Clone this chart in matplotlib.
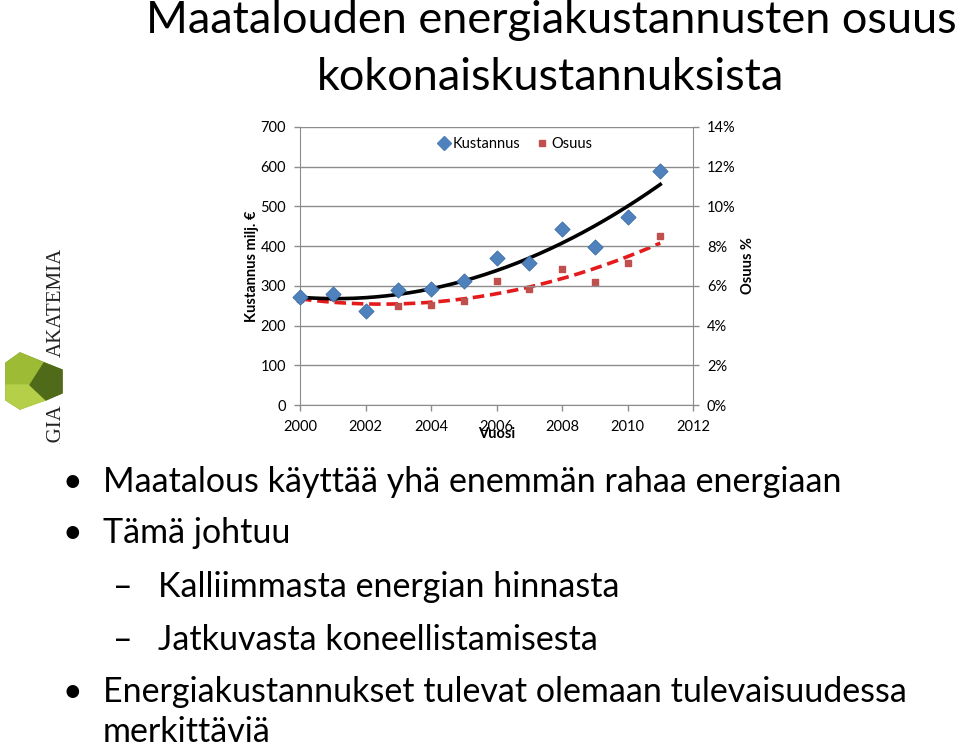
import numpy as np
import matplotlib
matplotlib.use("Agg")
import matplotlib.pyplot as plt
from matplotlib.patches import Polygon, Rectangle
from matplotlib.lines import Line2D

# ---- data ----
years = [2000, 2001, 2002, 2003, 2004, 2005, 2006, 2007, 2008, 2009, 2010, 2011]
kustannus = [273, 280, 236, 290, 292, 312, 370, 357, 444, 399, 474, 589]
osuus = [5.36, 5.45, 4.76, 4.98, 5.03, 5.23, 6.25, 5.85, 6.86, 6.20, 7.17, 8.50]
left_ticks = [0, 100, 200, 300, 400, 500, 600, 700]
right_ticks = [0, 2, 4, 6, 8, 10, 12, 14]
x_ticks = [2000, 2002, 2004, 2006, 2008, 2010, 2012]
title_lines = ["Maatalouden energiakustannusten osuus", "kokonaiskustannuksista"]
bullets = [
    ("•", "Maatalous käyttää yhä enemmän rahaa energiaan", 0),
    ("•", "Tämä johtuu", 0),
    ("–", "Kalliimmasta energian hinnasta", 1),
    ("–", "Jatkuvasta koneellistamisesta", 1),
    ("•", "Energiakustannukset tulevat olemaan tulevaisuudessa", 0),
    ("", "merkittäviä", 0),
]

W, H = 960, 749
fig = plt.figure(figsize=(W / 100, H / 100), dpi=100)
fig.patch.set_facecolor("white")
FONT = ["Lato", "DejaVu Sans"]
plt.rcParams["font.family"] = FONT


def P(x, y):
    return x / W, 1 - y / H


# ---- logo (background layer) ----
logo_ax = fig.add_axes([0, 0, 1, 1], facecolor="none")
logo_ax.set_xlim(0, W)
logo_ax.set_ylim(H, 0)
logo_ax.axis("off")
logo_ax.text(56, 302, "AKATEMIA", rotation=90, ha="center", va="center",
             family="Liberation Serif", fontsize=15, color="#222222", zorder=1)
logo_ax.text(56, 436, "ERGIA", rotation=90, ha="center", va="center",
             family="Liberation Serif", fontsize=15, color="#222222", zorder=1)
logo_ax.add_patch(Rectangle((0, 444), 100, 60, color="white", zorder=2))
logo_ax.add_patch(Polygon([(20, 353), (62, 370), (62, 393), (20, 409), (6, 400), (6, 363)],
                          closed=True, color="#6b8e23", zorder=3))
logo_ax.add_patch(Polygon([(20, 353), (44, 363), (30, 385), (6, 385), (6, 363)],
                          closed=True, color="#9dbb34", zorder=4))
logo_ax.add_patch(Polygon([(6, 385), (30, 385), (46, 400), (20, 409), (6, 400)],
                          closed=True, color="#b5cf48", zorder=4))
logo_ax.add_patch(Polygon([(44, 363), (62, 370), (62, 393), (46, 400), (30, 385)],
                          closed=True, color="#4f6b1a", zorder=4))

# ---- title ----
for txt, yb in zip(title_lines, [33, 90]):
    fig.text(*P(551, yb), txt, ha="center", va="baseline", fontsize=32.5, color="black")

# ---- chart ----
l, r, t, b = 300, 693, 127, 405
ax = fig.add_axes([l / W, 1 - b / H, (r - l) / W, (b - t) / H])
ax2 = ax.twinx()
ax.set_xlim(2000, 2012)
ax.set_ylim(0, 700)
ax2.set_ylim(0, 14)
grid_c = "#8c8c8c"
FS = 10.5
ax.set_yticks(left_ticks)
ax.set_yticklabels([str(v) for v in left_ticks])
ax2.set_yticks(right_ticks)
ax2.set_yticklabels([f"{v}%" for v in right_ticks])
ax.set_xticks(x_ticks)
ax.set_xticklabels([str(v) for v in x_ticks])
ax.yaxis.grid(True, color=grid_c, lw=1)
ax.set_axisbelow(True)
for a in (ax, ax2):
    for s in a.spines.values():
        s.set_visible(False)
    a.tick_params(labelsize=FS, colors="black", length=4, width=1)
    a.tick_params(axis="y", color=grid_c, pad=6)
ax.tick_params(axis="x", color=grid_c, pad=7)
ax.spines["left"].set_visible(True)
ax.spines["left"].set_color(grid_c)
ax.spines["bottom"].set_visible(True)
ax.spines["bottom"].set_color(grid_c)
ax2.spines["right"].set_visible(True)
ax2.spines["right"].set_color(grid_c)

xs = np.linspace(years[0], years[-1], 200)
ck = np.polyfit(years, kustannus, 2)
co = np.polyfit(years, osuus, 2)
ax.plot(xs, np.polyval(ck, xs), color="black", lw=2.6, zorder=3)
ax2.plot(xs, np.polyval(co, xs), color="#e41a1c", lw=2.6, ls=(0, (3.2, 1.6)), zorder=3)
ax2.scatter(years, osuus, marker="s", s=22, color="#c0504d", zorder=4, clip_on=False)
ax.scatter(years, kustannus, marker="D", s=60, color="#4f81bd", edgecolor="#3d6fa8",
           linewidth=0.6, zorder=5, clip_on=False)
ax.set_zorder(ax2.get_zorder() + 1)
ax.patch.set_visible(False)

ax.set_xlabel("Vuosi", fontsize=FS, fontweight="bold", labelpad=-5)
ax.set_ylabel("Kustannus milj. €", fontsize=FS, fontweight="bold", labelpad=1)
ax2.set_ylabel("Osuus %", fontsize=FS, fontweight="bold", rotation=90, labelpad=4)

handles = [
    Line2D([], [], marker="D", ls="none", color="#4f81bd", markersize=7),
    Line2D([], [], marker="s", ls="none", color="#c0504d", markersize=5),
]
ax.legend(handles, ["Kustannus", "Osuus"], loc="upper center", bbox_to_anchor=(0.545, 1.0),
          ncol=2, frameon=False, fontsize=FS, handletextpad=0.1, columnspacing=1.0,
          handlelength=1.0, borderpad=0.2)

# ---- bullets ----
y_lines = [492, 543, 597, 650, 702, 742]
BF = 24.5
for (sym, txt, lev), yb in zip(bullets, y_lines):
    if lev == 0:
        if sym:
            fig.text(*P(62, yb), sym, ha="left", va="baseline", fontsize=BF)
        fig.text(*P(103, yb), txt, ha="left", va="baseline", fontsize=BF)
    else:
        fig.text(*P(113, yb), sym, ha="left", va="baseline", fontsize=BF)
        fig.text(*P(158, yb), txt, ha="left", va="baseline", fontsize=BF)

fig.savefig("out.png", dpi=100, facecolor="white")
